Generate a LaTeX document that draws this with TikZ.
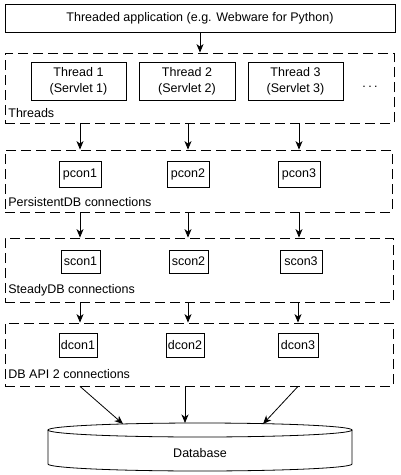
\documentclass[tikz,border=0pt]{standalone}
\usepackage{fontspec}
\setmainfont{Liberation Sans}
\usetikzlibrary{arrows.meta}
\begin{document}
\begin{tikzpicture}[x=1pt,y=-1pt,
  font=\fontsize{12.5}{16}\selectfont,
  line width=0.8pt,
  box/.style={draw, rectangle, inner sep=0pt, anchor=center, align=center},
  group/.style={draw, rectangle, inner sep=0pt, anchor=center, dash pattern=on 10pt off 5pt},
  arr/.style={-{Stealth[length=8.5pt,width=7pt,inset=2.5pt]}},
  lbl/.style={anchor=west, inner sep=0pt}]
\useasboundingbox (0,0) rectangle (400,475);

% top application box
\node[box, minimum width=390pt, minimum height=28pt] (app) at (200,18) {Threaded application (e.g. Webware for Python)};

% Threads group
\node[group, minimum width=389pt, minimum height=70pt] (threads) at (199.5,88) {};
\node[box, minimum width=95pt, minimum height=38pt] (t1) at (78.5,81) {Thread 1\\(Servlet 1)};
\node[box, minimum width=96pt, minimum height=38pt] (t2) at (187,81) {Thread 2\\(Servlet 2)};
\node[box, minimum width=95pt, minimum height=38pt] (t3) at (295.5,81) {Thread 3\\(Servlet 3)};
\node (dots) at (370,87) {.\kern2.5pt.\kern2.5pt.};
\node[lbl] (thl) at (8,113) {Threads};

% PersistentDB group
\node[group, minimum width=387pt, minimum height=62pt] (pers) at (198.5,181) {};
\node[box, minimum width=42pt, minimum height=26pt] (p1) at (80,174) {pcon1};
\node[box, minimum width=42pt, minimum height=26pt] (p2) at (188,174) {pcon2};
\node[box, minimum width=42pt, minimum height=26pt] (p3) at (299,174) {pcon3};
\node[lbl] (pl) at (8,202) {PersistentDB connections};

% SteadyDB group
\node[group, minimum width=388pt, minimum height=64pt] (steady) at (199,270) {};
\node[box, minimum width=39pt, minimum height=23pt] (s1) at (80.5,261.5) {scon1};
\node[box, minimum width=39pt, minimum height=23pt] (s2) at (188.5,261.5) {scon2};
\node[box, minimum width=42pt, minimum height=23pt] (s3) at (301,261.5) {scon3};
\node[lbl] (sl) at (8,290) {SteadyDB connections};

% DB API 2 group
\node[group, minimum width=388pt, minimum height=63pt] (dbapi) at (199,354.5) {};
\node[box, minimum width=38pt, minimum height=24pt] (d1) at (78,345) {dcon1};
\node[box, minimum width=38pt, minimum height=24pt] (d2) at (185,345) {dcon2};
\node[box, minimum width=40pt, minimum height=24pt] (d3) at (298,345) {dcon3};
\node[lbl] (dl) at (8,374) {DB API 2 connections};

% Database cylinder
\draw (48,430) -- (48,464) arc[start angle=180,end angle=360,x radius=152pt,y radius=7pt] -- (352,430);
\draw (200,430) ellipse [x radius=152pt, y radius=7pt];
\node (db) at (200,453) {Database};
\coordinate (dbt1) at (123,424);
\coordinate (dbt2) at (185,423);
\coordinate (dbt3) at (263,424);

% connectors
\draw[arr] (app.south) -- (app.south |- threads.north);
\foreach \p in {p1,p2,p3}{
  \draw[arr] (\p |- threads.south) -- (\p |- pers.north);
  \draw[arr] (\p |- pers.south) -- (\p |- steady.north);
}
\draw[arr] (p1 |- steady.south) -- (p1 |- dbapi.north);
\draw[arr] (p2 |- steady.south) -- (p2 |- dbapi.north);
\draw[arr] (d3 |- steady.south) -- (d3 |- dbapi.north);
\draw[arr] (p1 |- dbapi.south) -- (dbt1);
\draw[arr] (d2 |- dbapi.south) -- (dbt2);
\draw[arr] (d3 |- dbapi.south) -- (dbt3);
\end{tikzpicture}
\end{document}
